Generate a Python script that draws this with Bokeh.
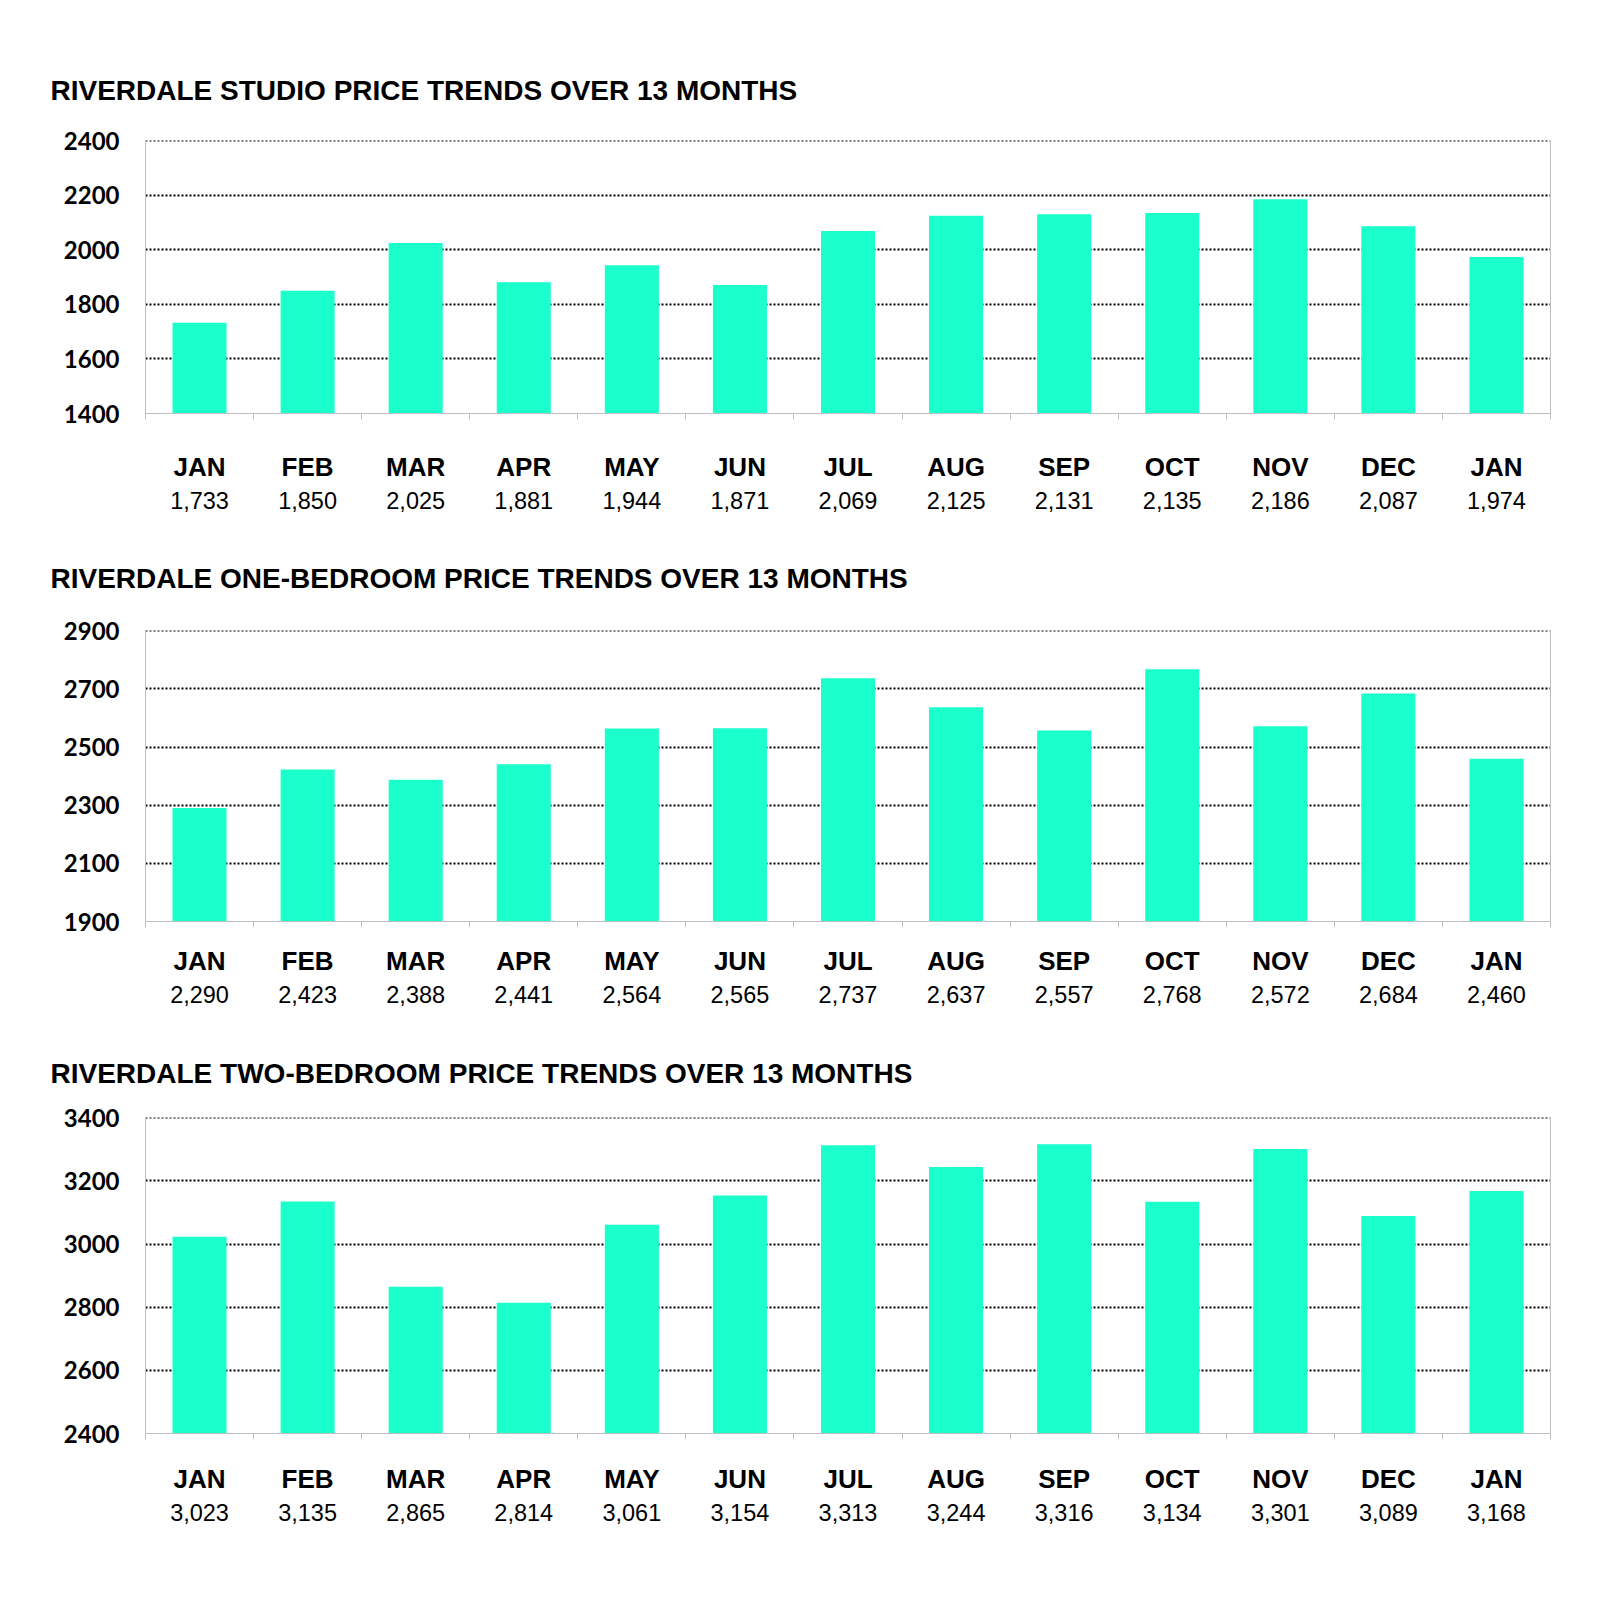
from bokeh.plotting import figure
from bokeh.models import Range1d, LinearAxis, FixedTicker
from bokeh.layouts import column
from bokeh.embed import file_html
from bokeh.resources import INLINE

MONTHS = ["JAN", "FEB", "MAR", "APR", "MAY", "JUN", "JUL", "AUG", "SEP",
          "OCT", "NOV", "DEC", "JAN"]

STUDIO_TITLE = "RIVERDALE STUDIO PRICE TRENDS OVER 13 MONTHS"
STUDIO = [1733, 1850, 2025, 1881, 1944, 1871, 2069, 2125, 2131, 2135, 2186, 2087, 1974]
STUDIO_TICKS = [1400, 1600, 1800, 2000, 2200, 2400]

ONE_BED_TITLE = "RIVERDALE ONE-BEDROOM PRICE TRENDS OVER 13 MONTHS"
ONE_BED = [2290, 2423, 2388, 2441, 2564, 2565, 2737, 2637, 2557, 2768, 2572, 2684, 2460]
ONE_BED_TICKS = [1900, 2100, 2300, 2500, 2700, 2900]

TWO_BED_TITLE = "RIVERDALE TWO-BEDROOM PRICE TRENDS OVER 13 MONTHS"
TWO_BED = [3023, 3135, 2865, 2814, 3061, 3154, 3313, 3244, 3316, 3134, 3301, 3089, 3168]
TWO_BED_TICKS = [2400, 2600, 2800, 3000, 3200, 3400]

BAR_COLOR = "#1affcc"
AXIS_GRAY = "#bfbfbf"


def make_chart(title, values, yticks, frame_h, top, bottom, title_standoff,
               month_standoff, value_standoff):
    n = len(MONTHS)
    centers = [i + 0.5 for i in range(n)]
    # a hair above the last tick so that its grid line is drawn
    p = figure(x_range=Range1d(0, n),
               y_range=Range1d(yticks[0], yticks[-1] + 1),
               frame_width=1405, frame_height=frame_h,
               min_border_left=145, min_border_right=30,
               min_border_top=top, min_border_bottom=bottom,
               output_backend="svg", toolbar_location=None,
               x_axis_location=None, y_axis_location="left", title=title)
    p.outline_line_color = None
    p.background_fill_color = "white"
    p.border_fill_color = "white"

    p.title.text_font = "Liberation Sans"
    p.title.text_font_style = "bold"
    p.title.text_font_size = "28px"
    p.title.text_color = "black"
    p.title.align = "left"
    p.title.offset = -95
    p.title.standoff = title_standoff

    p.vbar(x=centers, top=values, bottom=yticks[0], width=0.5,
           fill_color=BAR_COLOR, line_color=None)

    ya = p.yaxis[0]
    ya.ticker = FixedTicker(ticks=yticks)
    ya.major_label_text_font = "Lato"
    ya.major_label_text_font_style = "bold"
    ya.major_label_text_font_size = "24px"
    ya.major_label_text_color = "black"
    ya.axis_line_color = AXIS_GRAY
    ya.major_tick_line_color = None
    ya.minor_tick_line_color = None
    ya.major_tick_out = 0
    ya.major_tick_in = 0
    ya.major_label_standoff = 26

    p.ygrid.ticker = FixedTicker(ticks=yticks[1:])
    p.ygrid.grid_line_color = "black"
    p.ygrid.grid_line_dash = "2 2"
    p.ygrid.grid_line_width = 2
    p.xgrid.visible = False

    ra = LinearAxis(ticker=FixedTicker(ticks=[]), axis_line_color=AXIS_GRAY,
                    major_tick_line_color=None, minor_tick_line_color=None,
                    major_label_text_color=None,
                    major_label_text_font_size="1px", major_tick_out=0,
                    major_label_standoff=0)
    p.add_layout(ra, "right")

    ba = LinearAxis(ticker=FixedTicker(ticks=list(range(n + 1))),
                    axis_line_color=AXIS_GRAY, major_tick_line_color=AXIS_GRAY,
                    major_tick_in=0, major_tick_out=6,
                    minor_tick_line_color=None,
                    major_label_text_color=None,
                    major_label_text_font_size="1px", major_label_standoff=0)
    p.add_layout(ba, "below")

    ma = LinearAxis(ticker=FixedTicker(ticks=centers),
                    major_label_overrides={c: m for c, m in zip(centers, MONTHS)},
                    axis_line_color=None, major_tick_line_color=None,
                    minor_tick_line_color=None, major_tick_out=0,
                    major_tick_in=0, major_label_standoff=month_standoff,
                    major_label_text_font="Liberation Sans",
                    major_label_text_font_style="bold",
                    major_label_text_font_size="26px",
                    major_label_text_color="black")
    p.add_layout(ma, "below")

    va = LinearAxis(ticker=FixedTicker(ticks=centers),
                    major_label_overrides={c: f"{v:,}" for c, v in zip(centers, values)},
                    axis_line_color=None, major_tick_line_color=None,
                    minor_tick_line_color=None, major_tick_out=0,
                    major_tick_in=0, major_label_standoff=value_standoff,
                    major_label_text_font="Liberation Sans",
                    major_label_text_font_style="normal",
                    major_label_text_font_size="23.5px",
                    major_label_text_color="black")
    p.add_layout(va, "below")
    return p


p1 = make_chart(STUDIO_TITLE, STUDIO, STUDIO_TICKS, 273, 140, 109, 69, 32, 7)
p2 = make_chart(ONE_BED_TITLE, ONE_BED, ONE_BED_TICKS, 291, 108, 105, 74, 18, 7)
p3 = make_chart(TWO_BED_TITLE, TWO_BED, TWO_BED_TICKS, 316, 91, 130, 57, 24, 7)

layout = column(p1, p2, p3, spacing=0)
open("out.html", "w").write(file_html(layout, INLINE))
